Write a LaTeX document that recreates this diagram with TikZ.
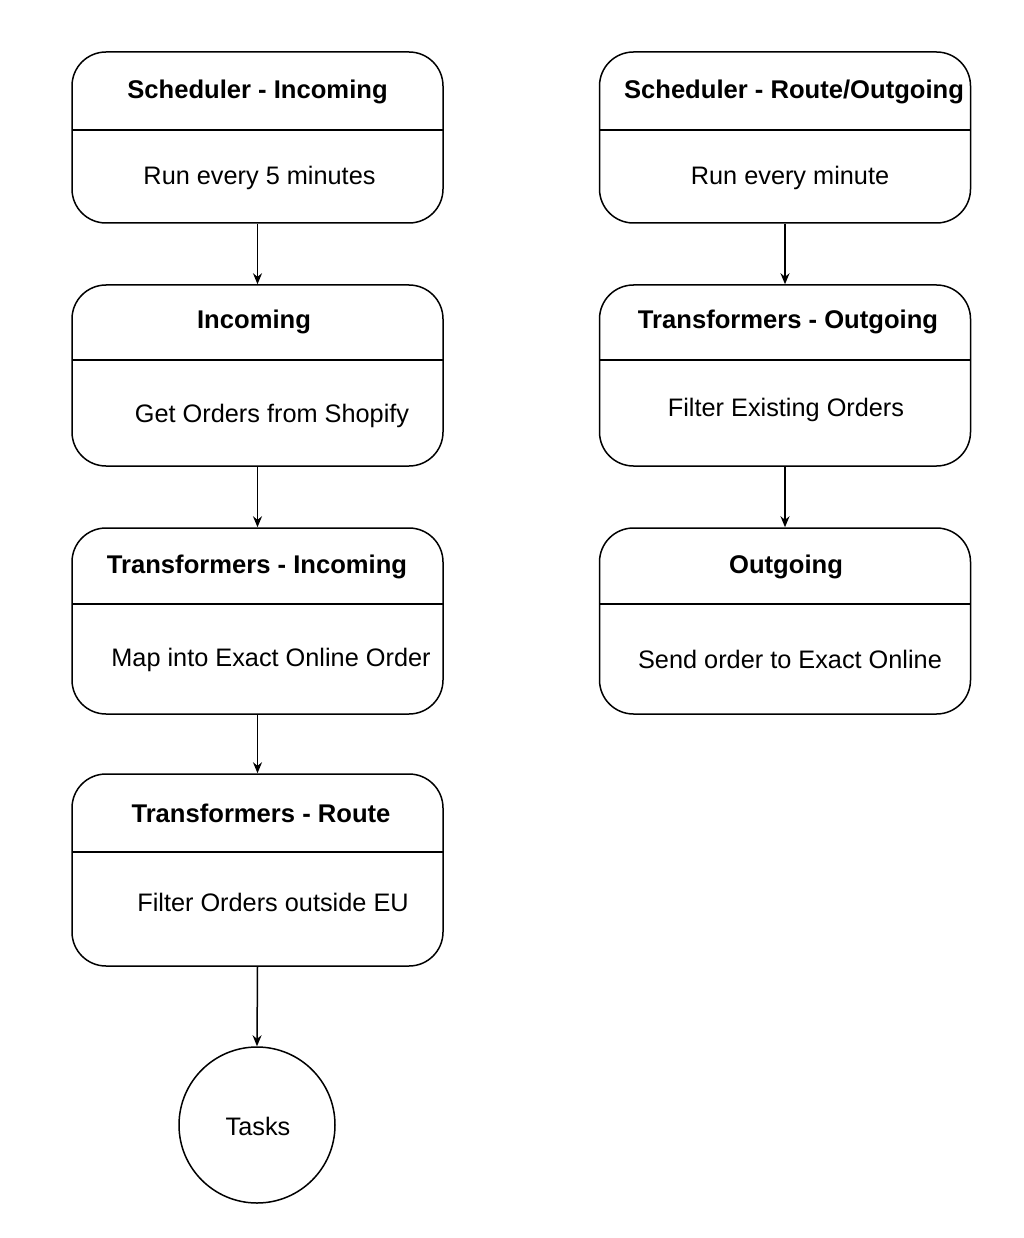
\documentclass[tikz,border=0pt]{standalone}
\usepackage{fontspec}
\setmainfont{Liberation Sans}
\usetikzlibrary{arrows.meta}
\begin{document}
\begin{tikzpicture}[x=1pt,y=-1pt,
  boxshape/.style={draw,line width=1.5pt,rounded corners=34pt,minimum width=371pt,inner sep=0pt},
  titletext/.style={font=\fontsize{25.6}{30}\selectfont\bfseries,inner sep=0pt},
  bodytext/.style={font=\fontsize{25.3}{30}\selectfont,inner sep=0pt},
  divider/.style={line width=1.2pt},
  conn/.style={line width=1.5pt,-{Stealth[length=11pt,width=9pt]}}]
\useasboundingbox (0,0) rectangle (1024,1238);
% left column
\node[boxshape,minimum height=171pt] (si) at (257.5,137.5) {};
\draw[divider] (72,130) -- (443,130);
\node[titletext] (sit) at (257.5,91.5) {Scheduler - Incoming};
\node[bodytext] (sib) at (259.5,177.5) {Run every 5 minutes};

\node[boxshape,minimum height=181pt] (in) at (257.5,375.5) {};
\draw[divider] (72,360) -- (443,360);
\node[titletext] (int) at (254,321.5) {Incoming};
\node[bodytext] (inb) at (272,415.5) {Get Orders from Shopify};

\node[boxshape,minimum height=186pt] (ti) at (257.5,621) {};
\draw[divider] (72,604) -- (443,604);
\node[titletext] (tit) at (257,566.5) {Transformers - Incoming};
\node[bodytext] (tib) at (271,659.5) {Map into Exact Online Order};

\node[boxshape,minimum height=192pt] (tr) at (257.5,870) {};
\draw[divider] (72,852) -- (443,852);
\node[titletext] (trt) at (261,813.5) {Transformers - Route};
\node[bodytext] (trb) at (273,902.5) {Filter Orders outside EU};

\node[draw,circle,line width=1.5pt,minimum size=156pt,inner sep=0pt] (tasks) at (257,1125) {};
\node[bodytext] (taskst) at (258,1126) {Tasks};

% right column
\node[boxshape,minimum height=171pt] (sr) at (785,137.5) {};
\draw[divider] (600,130) -- (970,130);
\node[titletext] (srt) at (794,91.5) {Scheduler - Route/Outgoing};
\node[bodytext] (srb) at (790,177.5) {Run every minute};

\node[boxshape,minimum height=181pt] (to) at (785,375.5) {};
\draw[divider] (600,360) -- (970,360);
\node[titletext] (tot) at (788,321.5) {Transformers - Outgoing};
\node[bodytext] (tob) at (786,409.5) {Filter Existing Orders};

\node[boxshape,minimum height=186pt] (og) at (785,621) {};
\draw[divider] (600,604) -- (970,604);
\node[titletext] (ogt) at (786,566.5) {Outgoing};
\node[bodytext] (ogb) at (790,659.5) {Send order to Exact Online};

% connectors
\draw[conn] (si.south) -- (in.north);
\draw[conn] (in.south) -- (ti.north);
\draw[conn] (ti.south) -- (tr.north);
\draw[conn] (tr.south) -- (tasks.north);
\draw[conn] (sr.south) -- (to.north);
\draw[conn] (to.south) -- (og.north);
\end{tikzpicture}
\end{document}
